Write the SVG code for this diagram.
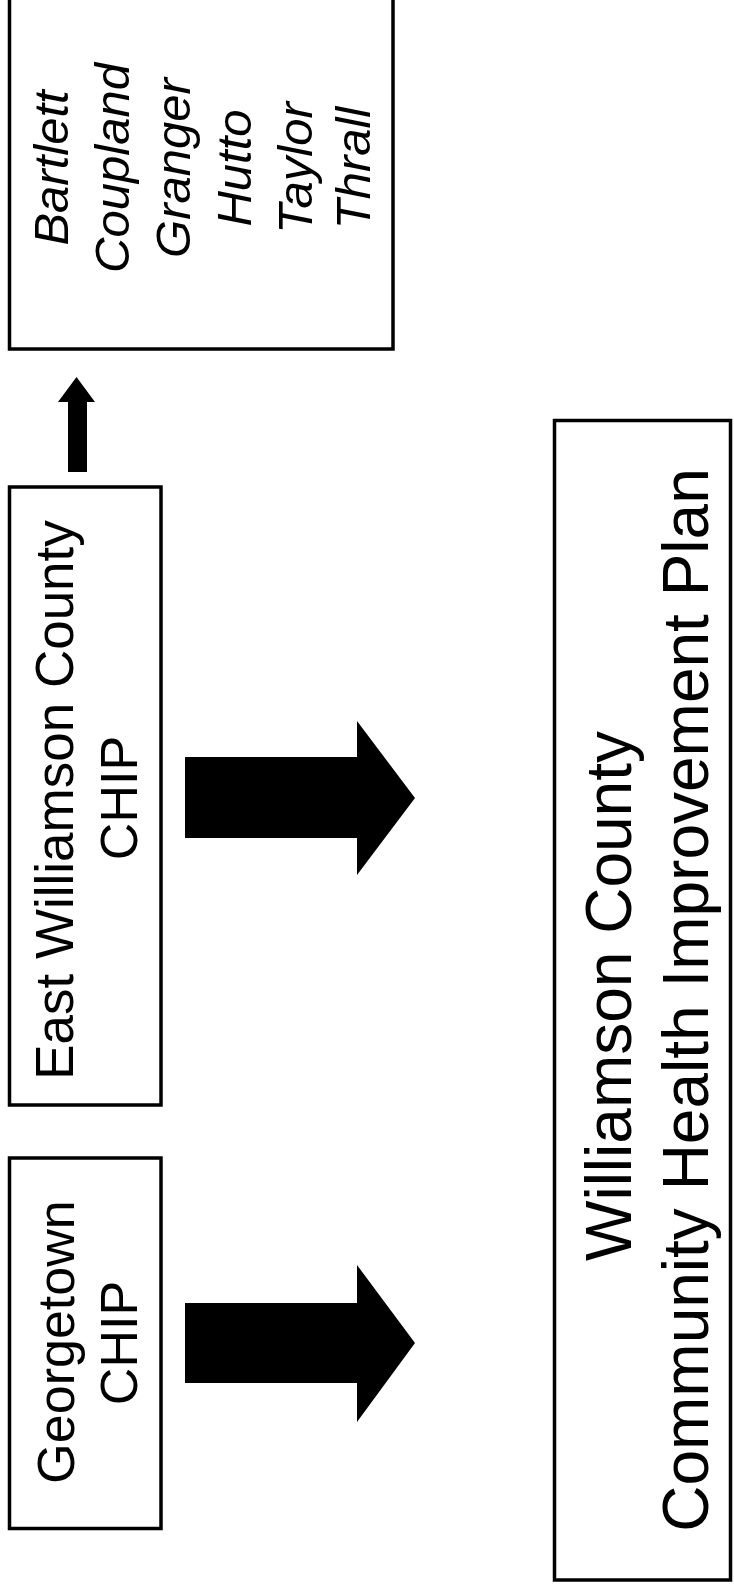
<svg xmlns="http://www.w3.org/2000/svg" width="734" height="1591" viewBox="0 0 734 1591">
<style>
.box{fill:#fff;stroke:#000;stroke-width:3.5}
.t{font-family:"Liberation Sans",Arial,sans-serif;fill:#000;text-anchor:middle}
.it{font-style:italic;font-size:49px}
.m{font-size:52px}
.b{font-size:64px}
.arr{fill:#000}
</style>
<rect width="734" height="1591" fill="#fff"/>
<g id="node-towns">
<rect class="box" x="9.5" y="-20" width="383.5" height="369"/>
<g transform="rotate(-90)">
<text class="t it" x="-168" y="68">Bartlett</text>
<text class="t it" x="-168" y="129">Coupland</text>
<text class="t it" x="-168" y="190">Granger</text>
<text class="t it" x="-168" y="251">Hutto</text>
<text class="t it" x="-168" y="312">Taylor</text>
<text class="t it" x="-168" y="370">Thrall</text>
</g>
</g>
<g id="node-east">
<rect class="box" x="9.5" y="487" width="151.5" height="618"/>
<g transform="rotate(-90)">
<text class="t" style="font-size:53px" x="-800" y="73">East Williamson County</text>
<text class="t m" x="-798" y="137">CHIP</text>
</g>
</g>
<g id="node-georgetown">
<rect class="box" x="9.5" y="1158" width="151.5" height="370.5"/>
<g transform="rotate(-90)">
<text class="t m" x="-1342" y="74">Georgetown</text>
<text class="t m" x="-1343" y="137">CHIP</text>
</g>
</g>
<g id="node-county">
<rect class="box" x="554.5" y="420.5" width="176" height="1159.5"/>
<g transform="rotate(-90)">
<text class="t b" x="-996" y="631">Williamson County</text>
<text class="t b" x="-1000" y="708">Community Health Improvement Plan</text>
</g>
</g>
<g id="connectors">
<polygon class="arr" points="68,472 68,402 58,402 76.5,377 95,402 87,402 87,472"/>
<polygon class="arr" points="185,757 357,757 357,721 415,798 357,875 357,838 185,838"/>
<polygon class="arr" points="185,1303 357,1303 357,1265 415,1343 357,1422 357,1383 185,1383"/>
</g>
</svg>
